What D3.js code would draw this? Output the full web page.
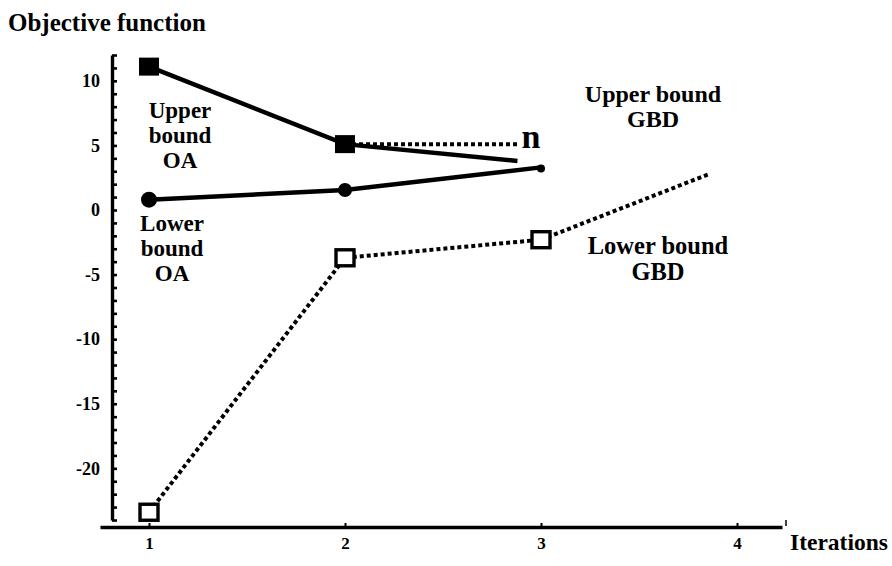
<!DOCTYPE html>
<html><head><meta charset="utf-8">
<script src="https://cdn.jsdelivr.net/npm/d3@7"></script>
<style>
body{margin:0;background:#fff}
svg text{font-family:"Liberation Serif","Times New Roman",serif;font-weight:bold;fill:#000}
</style>
</head><body>
<svg id="c" width="892" height="566"></svg>
<script>
// ---- data ----
const iterationTicks = [1, 2, 3, 4];
const yTickValues = [10, 5, 0, -5, -10, -15, -20];
const yMinorTicks = d3.range(-24, 13, 1);

const upperOA = [{x:1, y:11.1}, {x:2, y:5.1}, {x:2.88, y:3.8}];
const upperOAMarkers = [{x:1, y:11.1}, {x:2, y:5.1}];
const lowerOA = [{x:1, y:0.8}, {x:2, y:1.55}, {x:3, y:3.3}];
const upperGBD = [{x:2, y:5.1}, {x:2.88, y:5.1}];
const upperGBDEnd = {x:3, y:5.1};
const lowerGBD = [{x:1, y:-23.4}, {x:2, y:-3.7}, {x:3, y:-2.3}, {x:3.86, y:2.8}];
const lowerGBDMarkers = [{x:1, y:-23.4}, {x:2, y:-3.7}, {x:3, y:-2.3}];

// ---- scales ----
const svg = d3.select("#c");
const x = d3.scaleLinear().domain([1, 4]).range([149, 737]);
const y = d3.scaleLinear().domain([-24, 12]).range([520, 55]);
const xAxisX = 112, xAxisY = 527;
const serif = "'Liberation Serif','Times New Roman',serif";

// ---- y axis ----
svg.append("g").attr("transform", `translate(${xAxisX},0)`)
  .call(d3.axisRight(y).tickValues(yMinorTicks).tickSizeInner(5).tickSizeOuter(0).tickFormat(""))
  .call(g => g.select(".domain").attr("stroke-width", 3.4))
  .call(g => g.selectAll(".tick line").attr("stroke-width", 2.6));
svg.append("g").attr("transform", `translate(${xAxisX},0)`)
  .call(d3.axisLeft(y).tickValues(yTickValues).tickSize(0).tickPadding(12).tickFormat(d => String(d)))
  .call(g => g.select(".domain").remove())
  .call(g => g.selectAll("text").style("font-size", "18px").style("font-family", serif).style("font-weight", "bold"));

// ---- x axis ----
const xAxisScale = x.copy().domain([x.invert(100), x.invert(782)]).range([100, 782]);
svg.append("g").attr("transform", `translate(0,${xAxisY})`)
  .call(d3.axisBottom(xAxisScale).tickValues(iterationTicks).tickSizeInner(-4).tickSizeOuter(0).tickPadding(10).tickFormat(d => String(d)))
  .call(g => g.select(".domain").attr("stroke-width", 3.4))
  .call(g => g.selectAll(".tick line").attr("stroke-width", 2))
  .call(g => g.selectAll("text").style("font-size", "17px").style("font-family", serif).style("font-weight", "bold"));
svg.append("line").attr("x1", 786).attr("x2", 786).attr("y1", xAxisY - 7).attr("y2", xAxisY - 1)
  .attr("stroke", "#000").attr("stroke-width", 1.5);

// ---- lines ----
const line = d3.line().x(d => x(d.x)).y(d => y(d.y));
svg.append("path").datum(lowerGBD).attr("d", line).attr("fill", "none")
  .attr("stroke", "#000").attr("stroke-width", 4).attr("stroke-dasharray", "4,3");
svg.append("path").datum(upperGBD).attr("d", line).attr("fill", "none")
  .attr("stroke", "#000").attr("stroke-width", 4).attr("stroke-dasharray", "4,3");
svg.append("path").datum(upperOA).attr("d", line).attr("fill", "none")
  .attr("stroke", "#000").attr("stroke-width", 4.5);
svg.append("path").datum(lowerOA).attr("d", line).attr("fill", "none")
  .attr("stroke", "#000").attr("stroke-width", 4.5);

// ---- markers ----
svg.selectAll(".sqf").data(upperOAMarkers).join("rect")
  .attr("x", d => x(d.x) - 10).attr("y", d => y(d.y) - 9).attr("width", 20).attr("height", 18)
  .attr("fill", "#000");
svg.selectAll(".sqo").data(lowerGBDMarkers).join("rect")
  .attr("x", d => x(d.x) - 9).attr("y", d => y(d.y) - 8).attr("width", 18).attr("height", 16)
  .attr("fill", "#fff").attr("stroke", "#000").attr("stroke-width", 3.4);
svg.selectAll(".cir").data(lowerOA.slice(0, 2)).join("circle")
  .attr("cx", d => x(d.x)).attr("cy", d => y(d.y)).attr("r", (d, i) => i === 0 ? 8 : 7)
  .attr("fill", "#000");
svg.append("circle").attr("cx", x(lowerOA[2].x)).attr("cy", y(lowerOA[2].y) + 1).attr("r", 4).attr("fill", "#000");
svg.append("text").attr("x", x(upperGBDEnd.x) - 10).attr("y", y(upperGBDEnd.y) + 4)
  .attr("text-anchor", "middle").style("font-size", "34px").text("n");

// ---- labels ----
svg.append("text").attr("x", 8).attr("y", 31).style("font-size", "25px").text("Objective function");
svg.append("text").attr("x", 790).attr("y", 550).style("font-size", "23.5px").text("Iterations");

function block(lines, cx, y0, dy, size) {
  const t = svg.append("text").attr("text-anchor", "middle").style("font-size", size + "px");
  lines.forEach((s, i) => t.append("tspan").attr("x", cx).attr("y", y0 + i * dy).text(s));
}
block(["Upper", "bound", "OA"], 180, 118, 25, 23);
block(["Lower", "bound", "OA"], 172, 231, 25, 23);
block(["Upper bound", "GBD"], 653, 102, 25, 24);
block(["Lower bound", "GBD"], 658, 254, 26, 24.5);
</script>
</body></html>
